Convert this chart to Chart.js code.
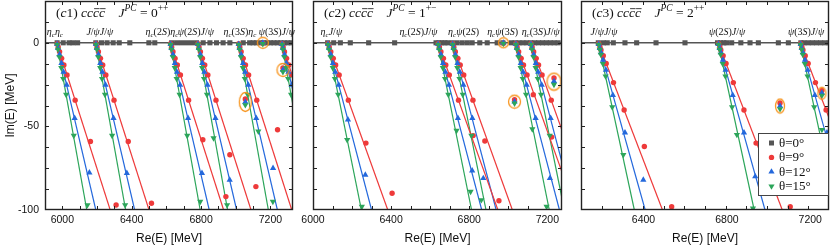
<!DOCTYPE html>
<html><head><meta charset="utf-8">
<script src="https://cdn.jsdelivr.net/npm/chart.js@4/dist/chart.umd.min.js"></script>
<style>
html,body{margin:0;padding:0;background:#fff;}
#wrap{position:relative;width:830px;height:248px;overflow:hidden;background:#fff;}
canvas{position:absolute;left:0;top:0;}
</style></head><body>
<div id="wrap">
<canvas id="c1" width="830" height="248"></canvas>
<canvas id="c2" width="830" height="248"></canvas>
<canvas id="c3" width="830" height="248"></canvas>
</div>
<script>
// ---------------- DATA ----------------
const LEGEND_LABELS = ['θ=0°', 'θ=9°', 'θ=12°', 'θ=15°'];
const Y_TICK_LABELS = [0, -50, -100];
const X_TICK_LABELS = [6000, 6400, 6800, 7200];

// Panel (c1) cc c̄c̄ 0++
const P1_LABELS = ['η_cη_c', 'J/ψJ/ψ', 'η_c(2S)η_c', 'ψ(2S)J/ψ', 'η_c(3S)η_c', 'ψ(3S)J/ψ'];
const P1_LABEL_E = [5957, 6216, 6574, 6770, 7024, 7237];
const P1_THRESH = [5968, 6192, 6622, 6780, 7015, 7265];
const P1_END9  = [6276, 6500, 6930, 7088, 7323, 7573];
const P1_END12 = [6193, 6417, 6847, 7005, 7240, 7490];
const P1_END15 = [6141, 6365, 6795, 6953, 7188, 7438];
const P1_GRAY = [5970,6005,6039,6061,6088,6193,6226,6258,6293,6328,6389,6499,6533,6630,6659,6687,6716,6745,6774,6812,6851,6889,6927,6966,7043,7080,7100,7120,7140,7160,7180,7200,7220,7240,7260,7280,7300,7320];
const P1_T9 = [
 [5970,-0.6],[5976,-2.5],[5984,-5.3],[5996,-9.3],[6009,-13.3],[6027,-19.2],[6074,-34.3],[6162,-59],[6310,-97],
 [6194,-0.6],[6200,-2.5],[6208,-5.3],[6220,-9.3],[6233,-13.3],[6251,-19.2],[6298,-34.3],[6380,-59],[6514,-96],
 [6624,-0.6],[6630,-2.5],[6638,-5.3],[6650,-9.3],[6663,-13.3],[6681,-19.2],[6728,-34.3],[6810,-58],[6943,-92],
 [6782,-0.6],[6788,-2.5],[6796,-5.3],[6808,-9.3],[6821,-13.3],[6839,-19.2],[6886,-34.3],[6966,-67],[7116,-86],
 [7017,-0.6],[7023,-2.5],[7031,-5.3],[7043,-9.3],[7056,-13.3],[7074,-19.2],[7121,-34.3],[7241,-52],
 [7267,-0.6],[7273,-2.5],[7281,-5.3],[7293,-9.3],[7306,-13.3],[7324,-19.2],
 [7156,-0.3],[7272,-15],[7055,-33.6]
];
const P1_T12 = [
 [5970,-0.8],[5975,-3.3],[5984,-6.9],[5995,-12.2],[6007,-17.5],[6025,-25.2],[6071,-45.1],[6156,-77.7],
 [6194,-0.8],[6199,-3.3],[6208,-6.9],[6219,-12.2],[6231,-17.5],[6249,-25.2],[6295,-45.1],[6372,-78],
 [6624,-0.8],[6629,-3.3],[6638,-6.9],[6649,-12.2],[6661,-17.5],[6679,-25.2],[6725,-45.1],[6805,-78],
 [6782,-0.8],[6787,-3.3],[6796,-6.9],[6807,-12.2],[6819,-17.5],[6837,-25.2],[6883,-45.1],[6965,-82],
 [7017,-0.8],[7022,-3.3],[7031,-6.9],[7042,-12.2],[7054,-17.5],[7072,-25.2],[7118,-45.1],[7215,-75],
 [7267,-0.8],[7272,-3.3],[7281,-6.9],[7292,-12.2],[7304,-17.5],[7322,-25.2],
 [7156,0],[7272,-16.2],[7055,-35.4]
];
const P1_T15 = [
 [5970,-1],[5975,-4],[5983,-8.5],[5994,-15],[6005,-21.5],[6022,-31],[6066,-55.5],[6145,-97],
 [6194,-1],[6199,-4],[6207,-8.5],[6218,-15],[6229,-21.5],[6246,-31],[6287,-55.5],[6362,-97],
 [6624,-1],[6629,-4],[6637,-8.5],[6648,-15],[6659,-21.5],[6676,-31],[6720,-55.5],[6795,-95],
 [6782,-1],[6787,-4],[6795,-8.5],[6806,-15],[6817,-21.5],[6834,-31],[6872,-57],[6950,-97],
 [7017,-1],[7022,-4],[7030,-8.5],[7041,-15],[7052,-21.5],[7069,-31],[7130,-53],[7214,-95],
 [7267,-1],[7272,-4],[7280,-8.5],[7291,-15],[7302,-21.5],[7319,-31],
 [7156,-0.6],[7272,-17.4],[7055,-37.2]
];
const P1_RES = [[7156,0],[7272,-16.2],[7055,-35.4]];

// Panel (c2) cc c̄c̄ 1+-
const P2_LABELS = ['η_cJ/ψ', 'η_c(2S)J/ψ', 'η_cψ(2S)', 'η_cψ(3S)', 'η_c(3S)J/ψ'];
const P2_LABEL_E = [6094, 6540, 6771, 6971, 7166];
const P2_THRESH = [6075, 6639, 6713, 7037, 7114];
const P2_END9  = [6383, 6947, 7021, 7345, 7422];
const P2_END12 = [6300, 6864, 6938, 7262, 7339];
const P2_END15 = [6248, 6812, 6886, 7210, 7287];
const P2_GRAY = [6075,6106,6140,6191,6285,6418,6630,6645,6660,6675,6690,6713,6738,6764,6790,6815,6854,6892,6943,6972,7015,7035,7055,7075,7095,7115,7135,7155,7175,7195,7215,7235,7255];
const P2_T9 = [
 [6077,-0.6],[6083,-2.5],[6091,-5.3],[6104,-9.3],[6116,-13.3],[6134,-19.2],[6181,-34.3],[6271,-60],[6405,-90],
 [6641,-0.6],[6647,-2.5],[6655,-5.3],[6668,-9.3],[6680,-13.3],[6698,-19.2],[6745,-34.3],[6820,-55.5],[6952,-94.5],
 [6715,-0.6],[6721,-2.5],[6729,-5.3],[6742,-9.3],[6754,-13.3],[6772,-19.2],[6819,-34.3],[6880,-58.7],
 [7039,-0.6],[7045,-2.5],[7053,-5.3],[7066,-9.3],[7078,-13.3],[7096,-19.2],[7128,-31],[7222,-56.4],
 [7116,-0.6],[7122,-2.5],[7130,-5.3],[7143,-9.3],[7155,-13.3],[7173,-19.2],[7220,-34.3],
 [6975,-0.3],[7032,-34],[7234,-21]
];
const P2_T12 = [
 [6077,-0.8],[6082,-3.3],[6091,-6.9],[6102,-12.2],[6114,-17.5],[6132,-25.2],[6179,-46],[6268,-79],
 [6641,-0.8],[6646,-3.3],[6655,-6.9],[6666,-12.2],[6678,-17.5],[6696,-25.2],[6742,-45.1],[6815,-76.5],
 [6715,-0.8],[6720,-3.3],[6729,-6.9],[6740,-12.2],[6752,-17.5],[6770,-25.2],[6816,-45.1],[6872,-81],
 [7039,-0.8],[7044,-3.3],[7053,-6.9],[7064,-12.2],[7076,-17.5],[7094,-25.2],[7140,-45.1],[7213,-81],
 [7116,-0.8],[7121,-3.3],[7130,-6.9],[7141,-12.2],[7153,-17.5],[7171,-25.2],[7217,-45.1],
 [6975,0],[7032,-35.2],[7234,-23]
];
const P2_T15 = [
 [6077,-1],[6082,-4],[6090,-8.5],[6101,-15],[6112,-21.5],[6129,-31],[6175,-58],[6250,-98],
 [6641,-1],[6646,-4],[6654,-8.5],[6665,-15],[6676,-21.5],[6693,-31],[6735,-52.5],[6807,-89],
 [6715,-1],[6720,-4],[6728,-8.5],[6739,-15],[6750,-21.5],[6767,-31],[6811,-55.5],[6862,-94],
 [7039,-1],[7044,-4],[7052,-8.5],[7063,-15],[7074,-21.5],[7091,-31],[7123,-51.6],[7196,-98],
 [7116,-1],[7121,-4],[7129,-8.5],[7140,-15],[7151,-21.5],[7168,-31],[7212,-55.5],
 [6975,-0.5],[7032,-36.2],[7234,-25]
];
const P2_RES = [[6975,0],[7032,-35.2],[7234,-23.2]];

// Panel (c3) cc c̄c̄ 2++
const P3_LABELS = ['J/ψJ/ψ', 'ψ(2S)J/ψ', 'ψ(3S)J/ψ'];
const P3_LABEL_E = [6210, 6801, 7180];
const P3_THRESH = [6183, 6758, 7152];
const P3_END9  = [6491, 7066, 7460];
const P3_END12 = [6408, 6983, 7377];
const P3_END15 = [6356, 6931, 7325];
const P3_GRAY = [6183,6207,6226,6255,6311,6367,6460,6599,6755,6770,6785,6799,6823,6867,6911,6951,7047,7095,7155,7170,7190,7210,7230,7250,7270,7290];
const P3_T9 = [
 [6185,-0.6],[6191,-2.5],[6196,-4.3],[6207,-7.7],[6221,-12.4],[6256,-23.8],[6307,-40.2],[6404,-62],[6535,-98],
 [6760,-0.6],[6766,-2.5],[6771,-4.3],[6782,-7.7],[6796,-12.4],[6831,-23.8],[6882,-40.2],[6940,-60],[7104,-98],
 [7154,-0.6],[7160,-2.5],[7165,-4.3],[7176,-7.7],[7190,-12.4],[7225,-23.8],[7276,-40.2],
 [7055,-36],[7256,-28.5]
];
const P3_T12 = [
 [6185,-0.8],[6190,-3.3],[6196,-5.7],[6206,-10.2],[6220,-16.3],[6253,-31.3],[6311,-53.7],[6399,-82],
 [6760,-0.8],[6765,-3.3],[6771,-5.7],[6781,-10.2],[6794,-16.3],[6828,-31.3],[6882,-53.7],[6936,-80],
 [7154,-0.8],[7159,-3.3],[7165,-5.7],[7175,-10.2],[7188,-16.3],[7222,-31.3],[7280,-53.7],
 [7055,-37.8],[7256,-30]
];
const P3_T15 = [
 [6185,-1],[6190,-4],[6195,-7],[6205,-12.5],[6218,-20],[6250,-38.5],[6303,-67],
 [6760,-1],[6765,-4],[6770,-7],[6780,-12.5],[6793,-20],[6825,-38.5],[6848,-55],[6925,-99],
 [7154,-1],[7159,-4],[7164,-7],[7174,-12.5],[7187,-20],[7219,-38.5],[7256,-52],
 [7055,-39.6],[7256,-31.5]
];
const P3_RES = [[7055,-37.8],[7256,-30.2]];

// ---------------- STYLE ----------------
const RED = '#ee3a3a', BLUE = '#2468dc', GREEN = '#2ca55a', GRAY = '#555555', ORANGE = '#f7941d';
const SANS = '"Liberation Sans", Arial, Helvetica, sans-serif';
const SERIF = '"Liberation Serif", "Times New Roman", "DejaVu Serif", serif';

function ellipseImg(w, h) {
  const c = document.createElement('canvas');
  c.width = w + 3; c.height = h + 3;
  const g = c.getContext('2d');
  g.strokeStyle = ORANGE; g.lineWidth = 1.3;
  g.beginPath(); g.ellipse(c.width / 2, c.height / 2, w / 2, h / 2, 0, 0, Math.PI * 2); g.stroke();
  return c;
}

const PANELS = [
  {id:'c1', xmin:5900, xmax:7330, pad:{left:0,right:537,top:1,bottom:0}, showY:true,
   title:'(c1) cc!c!c    J^{PC} = 0^{++}', thresh:P1_THRESH, end9:P1_END9, end12:P1_END12, end15:P1_END15,
   gray:P1_GRAY, t9:P1_T9, t12:P1_T12, t15:P1_T15, res:P1_RES, resSize:[[11,11],[12,13],[12,19]],
   labels:P1_LABELS, labelE:P1_LABEL_E, legend:false},
  {id:'c2', xmin:6000, xmax:7275, pad:{left:313,right:268,top:1,bottom:0}, showY:false,
   title:'(c2) cc!c!c    J^{PC} = 1^{+−}', thresh:P2_THRESH, end9:P2_END9, end12:P2_END12, end15:P2_END15,
   gray:P2_GRAY, t9:P2_T9, t12:P2_T12, t15:P2_T15, res:P2_RES, resSize:[[10,10],[12,13],[14,17]],
   labels:P2_LABELS, labelE:P2_LABEL_E, legend:false},
  {id:'c3', xmin:6100, xmax:7290, pad:{left:581,right:1,top:1,bottom:0}, showY:false,
   title:'(c3) cc!c!c    J^{PC} = 2^{++}', thresh:P3_THRESH, end9:P3_END9, end12:P3_END12, end15:P3_END15,
   gray:P3_GRAY, t9:P3_T9, t12:P3_T12, t15:P3_T15, res:P3_RES, resSize:[[9,14],[8,12]],
   labels:P3_LABELS, labelE:P3_LABEL_E, legend:true}
];
const PANEL_BY_ID = {};
PANELS.forEach(p => PANEL_BY_ID[p.id] = p);

// rich text (sub/superscripts, overline)
function parseTex(s) {
  const parts = []; let i = 0;
  while (i < s.length) {
    const ch = s[i];
    if (ch === '_' || ch === '^') {
      let txt;
      if (s[i + 1] === '{') { const j = s.indexOf('}', i); txt = s.slice(i + 2, j); i = j + 1; }
      else { txt = s[i + 1]; i += 2; }
      for (const c of txt) parts.push({t: c, mode: ch === '_' ? 'sub' : 'sup'});
    } else if (ch === '!') { parts.push({t: s[i + 1], ov: true}); i += 2; }
    else { parts.push({t: ch}); i++; }
  }
  return parts;
}
function drawRich(ctx, str, x, y, size, align) {
  const parts = parseTex(str);
  const fontFor = p => {
    const s = p.mode ? size * 0.7 : size;
    const it = /[A-Za-zα-ωΑ-Ω]/.test(p.t);
    return (it ? 'italic ' : '') + s + 'px ' + SERIF;
  };
  let w = 0;
  parts.forEach(p => { ctx.font = fontFor(p); p.w = ctx.measureText(p.t).width; w += p.w; });
  let cx = align === 'center' ? x - w / 2 : x;
  ctx.textAlign = 'left'; ctx.textBaseline = 'alphabetic'; ctx.fillStyle = '#111';
  parts.forEach(p => {
    ctx.font = fontFor(p);
    const dy = p.mode === 'sub' ? size * 0.22 : p.mode === 'sup' ? -size * 0.42 : 0;
    ctx.fillText(p.t, cx, y + dy);
    if (p.ov) {
      ctx.save(); ctx.strokeStyle = '#111'; ctx.lineWidth = 0.8;
      ctx.beginPath(); ctx.moveTo(cx + 1, y - size * 0.62); ctx.lineTo(cx + p.w + 0.5, y - size * 0.62); ctx.stroke();
      ctx.restore();
    }
    cx += p.w;
  });
}
function marker(ctx, kind, x, y, col) {
  ctx.fillStyle = col; ctx.beginPath();
  if (kind === 'rect') { ctx.rect(x - 2.5, y - 2.5, 5, 5); }
  else if (kind === 'circle') { ctx.arc(x, y, 2.7, 0, Math.PI * 2); }
  else if (kind === 'up') { ctx.moveTo(x, y - 3.5); ctx.lineTo(x + 3.1, y + 1.8); ctx.lineTo(x - 3.1, y + 1.8); ctx.closePath(); }
  else { ctx.moveTo(x, y + 3.5); ctx.lineTo(x + 3.1, y - 1.8); ctx.lineTo(x - 3.1, y - 1.8); ctx.closePath(); }
  ctx.fill();
}

const decor = {
  id: 'decor',
  afterDraw(chart) {
    const P = PANEL_BY_ID[chart.canvas.id];
    const {ctx, chartArea: a} = chart;
    const xs = chart.scales.x, ys = chart.scales.y;
    ctx.save();
    // inward ticks on all four sides
    ctx.beginPath(); ctx.strokeStyle = '#222'; ctx.lineWidth = 1;
    xs.ticks.forEach(t => {
      if (t.value <= xs.min || t.value >= xs.max) return;
      const px = Math.round(xs.getPixelForValue(t.value)) + 0.5;
      ctx.moveTo(px, a.bottom); ctx.lineTo(px, a.bottom - 4);
      ctx.moveTo(px, a.top); ctx.lineTo(px, a.top + 4);
    });
    ys.ticks.forEach(t => {
      if (t.value <= ys.min || t.value >= ys.max) return;
      const py = Math.round(ys.getPixelForValue(t.value)) + 0.5;
      ctx.moveTo(a.left, py); ctx.lineTo(a.left + 4, py);
      ctx.moveTo(a.right, py); ctx.lineTo(a.right - 4, py);
    });
    ctx.stroke();
    // frame
    ctx.lineWidth = 1.4; ctx.strokeStyle = '#222';
    ctx.strokeRect(a.left + 0.5, a.top + 0.5, a.right - a.left - 1, a.bottom - a.top - 1);
    // x tick labels, placed through the x scale
    ctx.fillStyle = '#111'; ctx.font = '10.5px ' + SANS; ctx.textAlign = 'center'; ctx.textBaseline = 'top';
    X_TICK_LABELS.forEach(v => {
      if (v < xs.min || v > xs.max) return;
      ctx.fillText(String(v), xs.getPixelForValue(v), a.bottom + 5);
    });
    // threshold labels
    const y0 = ys.getPixelForValue(0);
    P.labels.forEach((s, i) => drawRich(ctx, s, xs.getPixelForValue(P.labelE[i]), y0 - 8, 10, 'center'));
    // title
    drawRich(ctx, P.title, a.left + 11, 17, 13.5, 'left');
    // legend
    if (P.legend) {
      const bw = 71, bh = 63, bx = a.right - bw, by = a.bottom - 77;
      ctx.fillStyle = '#fff'; ctx.fillRect(bx, by, bw, bh);
      ctx.strokeStyle = '#444'; ctx.lineWidth = 1; ctx.strokeRect(bx + 0.5, by + 0.5, bw - 1, bh - 1);
      const kinds = [['rect', GRAY], ['circle', RED], ['up', BLUE], ['down', GREEN]];
      LEGEND_LABELS.forEach((lab, i) => {
        const yy = by + 10 + i * 14.4;
        marker(ctx, kinds[i][0], bx + 13.5, yy, kinds[i][1]);
        ctx.fillStyle = '#111'; ctx.font = '13px ' + SERIF; ctx.textAlign = 'left'; ctx.textBaseline = 'middle';
        ctx.fillText(lab, bx + 21, yy + 0.5);
      });
    }
    ctx.restore();
  }
};

function pts(arr) { return arr.map(p => ({x: p[0], y: p[1]})); }

function buildDatasets(P) {
  const ds = [];
  [[P.end9, RED], [P.end12, BLUE], [P.end15, GREEN]].forEach(([ends, col]) => {
    P.thresh.forEach((t, i) => ds.push({
      data: [{x: t, y: 0}, {x: ends[i], y: -100}], showLine: true, borderColor: col, borderWidth: 1.2,
      pointRadius: 0, order: 10, clip: 0
    }));
  });
  ds.push({data: P.gray.map(e => ({x: e, y: 0})), pointStyle: 'rect', pointRadius: 3.6,
    pointBackgroundColor: GRAY, pointBorderColor: GRAY, pointBorderWidth: 0, showLine: false, order: 6, clip: 0});
  ds.push({data: pts(P.t9), pointStyle: 'circle', pointRadius: 2.7,
    pointBackgroundColor: RED, pointBorderColor: RED, pointBorderWidth: 0, showLine: false, order: 5, clip: 0});
  ds.push({data: pts(P.t12), pointStyle: 'triangle', pointRadius: 3.6,
    pointBackgroundColor: BLUE, pointBorderColor: BLUE, pointBorderWidth: 0, showLine: false, order: 4, clip: 0});
  ds.push({data: pts(P.t15), pointStyle: 'triangle', pointRotation: 180, pointRadius: 3.6,
    pointBackgroundColor: GREEN, pointBorderColor: GREEN, pointBorderWidth: 0, showLine: false, order: 3, clip: 0});
  ds.push({data: pts(P.res), pointStyle: P.resSize.map(s => ellipseImg(s[0], s[1])), pointRadius: 6,
    showLine: false, order: 1, clip: 0});
  return ds;
}

PANELS.forEach(P => {
  new Chart(document.getElementById(P.id), {
    type: 'scatter',
    data: {datasets: buildDatasets(P)},
    plugins: [decor],
    options: {
      responsive: false, animation: false, devicePixelRatio: 1, events: [],
      layout: {padding: P.pad, autoPadding: false},
      plugins: {legend: {display: false}, tooltip: {enabled: false}},
      scales: {
        x: {
          type: 'linear', min: P.xmin, max: P.xmax,
          ticks: {stepSize: 100, display: false, autoSkip: false, maxRotation: 0},
          grid: {display: false, drawTicks: false}, border: {display: false},
          title: {display: true, text: 'Re(E) [MeV]', color: '#111', font: {family: SANS, size: 12}, padding: {top: 0, bottom: 2}},
          afterFit: s => { s.height = 38; s.paddingLeft = 0; s.paddingRight = 0; }
        },
        y: {
          type: 'linear', min: -100, max: 25,
          ticks: {stepSize: 12.5, display: P.showY, padding: 6, color: '#111', font: {family: SANS, size: 10.5},
            callback: v => Y_TICK_LABELS.includes(v) ? String(v) : ''},
          grid: {display: true, drawTicks: false, drawOnChartArea: true, lineWidth: 1.6,
            color: c => (c.tick && c.tick.value === 0) ? '#555' : 'rgba(0,0,0,0)'},
          border: {display: false},
          title: {display: P.showY, text: 'Im(E) [MeV]', color: '#111', font: {family: SANS, size: 12}, padding: {top: 3, bottom: 0}},
          afterFit: s => { s.width = P.showY ? 45 : 0; s.paddingTop = 0; s.paddingBottom = 0; }
        }
      }
    }
  });
});
</script>
</body></html>
